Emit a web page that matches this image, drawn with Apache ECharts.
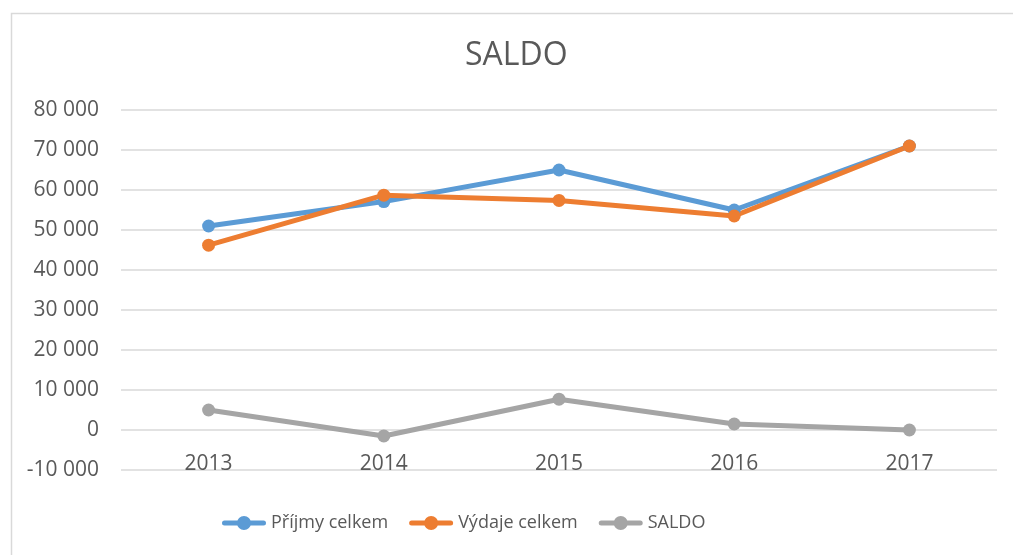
<!DOCTYPE html>
<html>
<head>
    <meta charset="UTF-8">
    <title>SALDO</title>
    <script type="text/javascript" src="https://cdn.jsdelivr.net/npm/echarts@6/dist/echarts.min.js"></script>
    <style type="text/css">
        html, body {
            margin: 0;
            padding: 0;
            background: #fff;
        }
        #chart {
            width: 1013px;
            height: 555px;
        }
    </style>
</head>
<body>
<div id="chart"></div>

<script type="text/javascript">
    // data
    var years = ['2013', '2014', '2015', '2016', '2017'];
    var prijmy = [51000, 57100, 65000, 55000, 71000];
    var vydaje = [46200, 58700, 57400, 53500, 71000];
    var saldo = [5000, -1500, 7700, 1500, 0];

    var textColor = '#595959';
    var font = '"Open Sans", "Liberation Sans", sans-serif';

    // thick line with a dot in the middle, like the excel legend
    var legendIcon = 'path://M2.5,4.5 L41.5,4.5 A2.5,2.5 0 0 1 41.5,9.5 L2.5,9.5 A2.5,2.5 0 0 1 2.5,4.5 Z ' +
        'M22,0 A7,7 0 1 1 22,14 A7,7 0 1 1 22,0 Z';

    function fmt(v) {
        var s = String(Math.abs(v)).replace(/\B(?=(\d{3})+(?!\d))/g, ' ');
        return (v < 0 ? '-' : '') + s;
    }

    function lineSeries(name, data, color) {
        return {
            name: name,
            type: 'line',
            data: data,
            symbol: 'circle',
            symbolSize: 13,
            lineStyle: { width: 5, color: color },
            itemStyle: { color: color },
            emphasis: { disabled: true }
        };
    }

    var myChart = echarts.init(document.getElementById('chart'));
    myChart.setOption({
        animation: false,
        color: ['#5B9BD5', '#ED7D31', '#A5A5A5'],
        graphic: [{
            type: 'rect',
            left: 9,
            top: 11,
            shape: { width: 1100, height: 600 },
            style: { fill: 'none', stroke: '#D9D9D9', lineWidth: 1.5 },
            silent: true
        }],
        title: {
            text: 'SALDO',
            left: 460,
            top: 35,
            textStyle: {
                fontFamily: font,
                fontSize: 32,
                fontWeight: 'normal',
                color: textColor
            }
        },
        legend: {
            bottom: 18,
            left: 217,
            icon: legendIcon,
            itemWidth: 44,
            itemHeight: 14,
            itemGap: 21,
            textStyle: { fontFamily: font, fontSize: 18, color: textColor },
            data: ['Příjmy celkem', 'Výdaje celkem', 'SALDO']
        },
        grid: {
            left: 121,
            right: 16,
            top: 110,
            bottom: 85,
            containLabel: false
        },
        xAxis: {
            type: 'category',
            data: years,
            // labels sit under the zero line (offset up from the grid bottom)
            offset: -40,
            axisLine: { show: false, onZero: false },
            axisTick: { show: false },
            axisLabel: {
                margin: 24,
                fontFamily: font,
                fontSize: 21,
                color: textColor
            }
        },
        yAxis: {
            type: 'value',
            min: -10000,
            max: 80000,
            interval: 10000,
            axisLine: { show: false },
            axisTick: { show: false },
            splitLine: { lineStyle: { color: '#D9D9D9', width: 1.5 } },
            axisLabel: {
                margin: 22,
                fontFamily: font,
                fontSize: 21,
                color: textColor,
                formatter: fmt
            }
        },
        series: [
            lineSeries('Příjmy celkem', prijmy, '#5B9BD5'),
            lineSeries('Výdaje celkem', vydaje, '#ED7D31'),
            lineSeries('SALDO', saldo, '#A5A5A5')
        ]
    });
</script>
</body>
</html>
